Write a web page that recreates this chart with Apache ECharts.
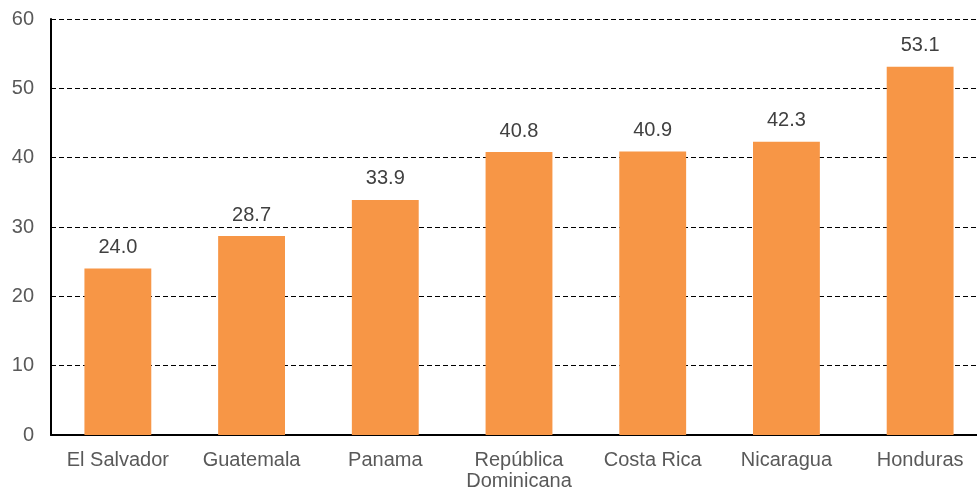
<!DOCTYPE html>
<html>
<head>
<meta charset="utf-8">
<script src="https://cdn.jsdelivr.net/npm/echarts@6/dist/echarts.min.js"></script>
<style>
  html, body { margin: 0; padding: 0; background: #fff; }
  #chart { width: 977px; height: 491px; }
</style>
</head>
<body>
<div id="chart"></div>
<script>
const categories = ['El Salvador', 'Guatemala', 'Panama', 'República\nDominicana', 'Costa Rica', 'Nicaragua', 'Honduras'];
const values = [24.0, 28.7, 33.9, 40.8, 40.9, 42.3, 53.1];
const yTicks = [0, 10, 20, 30, 40, 50, 60];

const chart = echarts.init(document.getElementById('chart'));
const textColor = '#595959';
const fontFamily = '"Liberation Sans", Arial, sans-serif';

chart.setOption({
  animation: false,
  // the plot runs a little past the right edge of the canvas
  grid: { left: 51, right: -10, top: 19, bottom: 56, containLabel: false, outerBoundsMode: 'none' },
  xAxis: {
    type: 'category',
    data: categories,
    axisLine: { lineStyle: { color: '#000', width: 2 } },
    axisTick: { show: false },
    axisLabel: { interval: 0, color: textColor, fontSize: 20, fontFamily, margin: 15, lineHeight: 21 }
  },
  yAxis: {
    type: 'value',
    min: yTicks[0],
    max: yTicks[yTicks.length - 1],
    interval: 10,
    axisLine: { show: true, lineStyle: { color: '#000', width: 2 } },
    axisTick: { show: false },
    axisLabel: { color: textColor, fontSize: 20, fontFamily, margin: 17 },
    splitLine: { lineStyle: { color: '#000', type: [5, 3], width: 1 } }
  },
  series: [{
    type: 'bar',
    data: values,
    barWidth: '50%',
    itemStyle: { color: '#F79646' },
    label: {
      show: true,
      position: 'top',
      distance: 11,
      color: '#404040',
      fontSize: 20,
      fontFamily,
      formatter: p => p.value.toFixed(1)
    }
  }]
});
</script>
</body>
</html>
